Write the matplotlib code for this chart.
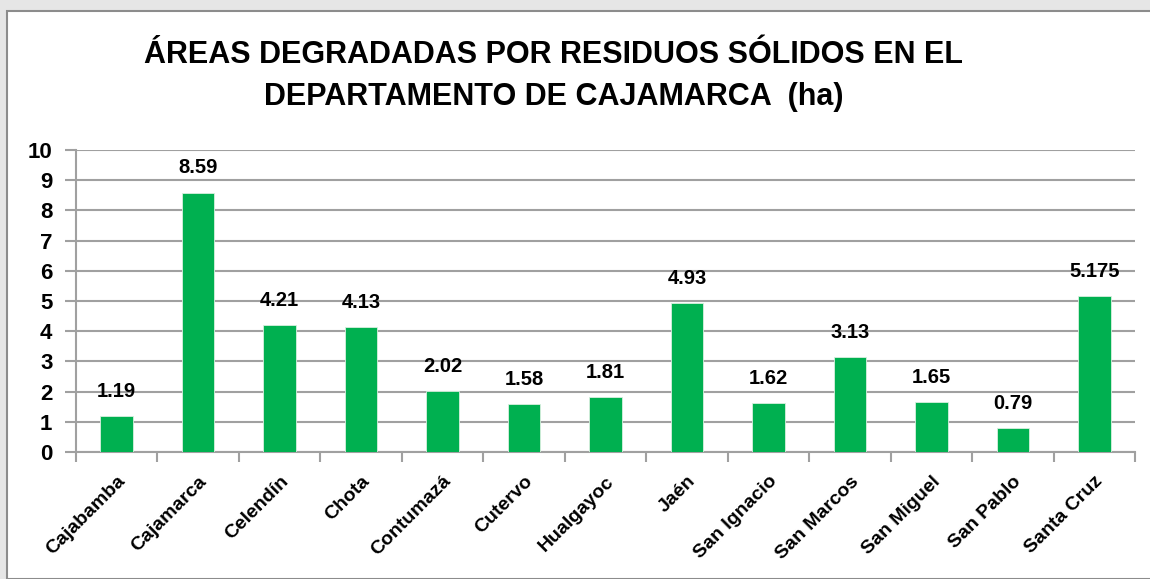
import matplotlib.pyplot as plt
from matplotlib.patches import Rectangle
import numpy as np

provincias = ['Cajabamba', 'Cajamarca', 'Celendín', 'Chota', 'Contumazá', 'Cutervo',
              'Hualgayoc', 'Jaén', 'San Ignacio', 'San Marcos', 'San Miguel',
              'San Pablo', 'Santa Cruz']
hectareas = [1.19, 8.59, 4.21, 4.13, 2.02, 1.58, 1.81, 4.93, 1.62, 3.13, 1.65, 0.79, 5.175]
etiquetas = ['1.19', '8.59', '4.21', '4.13', '2.02', '1.58', '1.81', '4.93', '1.62',
             '3.13', '1.65', '0.79', '5.175']
titulo = 'ÁREAS DEGRADADAS POR RESIDUOS SÓLIDOS EN EL\nDEPARTAMENTO DE CAJAMARCA  (ha)'

plt.rcParams['font.family'] = ['Liberation Sans', 'DejaVu Sans']
plt.rcParams['font.weight'] = 'bold'

fig = plt.figure(figsize=(11.5, 5.79), dpi=100, facecolor='#e6e6e6')

# white chart box like the slide
fig.patches.append(Rectangle((7 / 1150, 0), 1, 1 - 11 / 579, transform=fig.transFigure,
                             facecolor='white', edgecolor='#8c8c8c', linewidth=1.5, zorder=0))

ax = fig.add_axes([76 / 1150, 1 - 452 / 579, (1135 - 76) / 1150, (452 - 150) / 579])
ax.set_zorder(2)
ax.set_facecolor('none')

x = np.arange(len(provincias))
ax.bar(x, hectareas, width=0.4, color='#00b050', edgecolor='#d8f0df', linewidth=0.6, zorder=3)

for xi, v, t in zip(x, hectareas, etiquetas):
    ax.text(xi, v + 0.5, t, ha='center', va='bottom', fontsize=14.5, fontweight='bold')

ax.set_xlim(-0.5, len(provincias) - 0.5)
ax.set_ylim(0, 10)
ax.set_yticks(range(0, 11))
ax.yaxis.grid(True, color='#a0a0a0', linewidth=1.5, zorder=0)
ax.set_axisbelow(True)

ax.set_xticks(np.arange(-0.5, len(provincias), 1.0), minor=False)
ax.set_xticklabels([])
ax.set_xticks(x, minor=True)
ax.set_xticklabels(provincias, minor=True, rotation=45, ha='right', va='top',
                   rotation_mode='anchor', fontsize=14, fontweight='bold')
ax.tick_params(axis='x', which='major', length=7, width=1.5, color='#a0a0a0')
ax.tick_params(axis='x', which='minor', length=0, pad=15)
ax.tick_params(axis='y', length=8, width=1.5, color='#a0a0a0', labelsize=16, pad=9)

for s in ['top', 'right']:
    ax.spines[s].set_visible(False)
for s in ['left', 'bottom']:
    ax.spines[s].set_color('#a0a0a0')
    ax.spines[s].set_linewidth(1.5)

fig.text(554 / 1150, 1 - 76 / 579, titulo, ha='center', va='center', fontsize=22,
         fontweight='bold', linespacing=1.55)

fig.savefig('out.png', dpi=100, facecolor=fig.get_facecolor())
